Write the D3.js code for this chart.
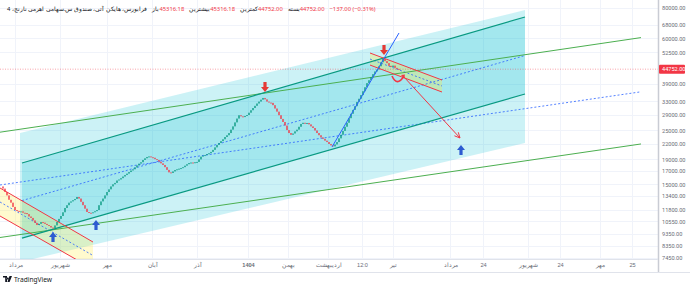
<!DOCTYPE html>
<html><head><meta charset="utf-8">
<script src="https://cdn.jsdelivr.net/npm/d3@7"></script>
<style>body{margin:0;background:#fff;} svg{display:block;font-family:"Noto Sans",Roboto,"DejaVu Sans",sans-serif;}</style>
</head><body><svg id="c" width="690" height="286"></svg>
<script>
// ---- data ----
const closes = [14400,13940,13500,12950,12600,12100,11750,11650,11550,11600,
11450,11420,11300,11050,10900,10650,10400,10190,10300,10480,
10420,10300,10190,10100,9950,9900,10150,10490,10800,11100,
11500,11980,12300,12600,12750,12900,13050,13300,13100,12700,
12300,11900,11530,11450,11400,11500,11620,11750,12300,12750,
13100,13500,13940,14300,14700,15000,15200,15550,15700,15900,
16150,16380,16600,16850,17100,17300,17600,17950,18250,18500,
18900,19200,19440,19550,19400,19300,19050,18900,18600,18300,
18020,17650,17200,16800,16700,16950,17180,17300,17400,17500,
17650,17900,18150,18360,18450,18400,18500,18550,19000,19500,
19700,19800,20000,20150,20400,20800,21300,21800,22200,22600,
23000,23500,23900,24400,25200,26000,27000,28000,28900,28600,
28400,28700,28960,29600,30300,30950,31600,32300,32900,33500,
34050,33600,32900,32600,32500,31800,30800,29900,28900,27900,
27100,26200,25100,24400,24000,24300,24800,25200,25900,26600,
26900,26700,26850,26500,26000,25600,25000,24400,23900,23400,
23100,22700,22400,22000,21700,21500,21900,22400,23200,24000,
24900,25900,26900,28100,29300,30400,31500,32800,33800,35000,
36300,37700,39200,40300,41500,42700,43800,44600,46000,47800,
49300,48300,47400,46200,45700,46300,45316,44889,44752];
const firstOpen = 14700;
const lastPrice = 44752;

const yTickValues = [80000,68000,60000,52500,39000,33000,29000,25000,22000,19000,17000,15000,13400,11800,10550,9350,8350,7450];
const xTickLabels = ["مرداد","شهریور","مهر","آبان","آذر","1404","بهمن","اردیبهشت","12:0","تیر","مرداد","24","شهریور","24","مهر","25"];
const xTickBars   = [6,28.5,52,74.5,97,122.5,142.5,162.5,179.5,195,223.5,240,262.5,278.5,298.5,314.5];
const boldTicks = ["1404"];

// drawings: [barIndex, price]
const greenUpper = [[-1.5,24600],[319,60400]];
const greenLower = [[-1.5,9050],[319,22000]];
const greenMid   = [[-1.5,14900],[319,36100]];
const lightFill  = [[8.5,24420],[261,78500],[261,22200],[8.5,7170]];
const tealUpper  = [[9.5,18360],[261,73450]];
const tealLower  = [[9.5,9000],[261,35350]];
const tealMid    = [[9.5,12850],[261,50950]];
const redCh1Upper = [[-1.5,14480],[45,8670]];
const redCh1Lower = [[-1.5,11100],[45,6710]];
const redCh1Mid   = [[-1.5,12680],[45,7630]];
const redCh2Upper = [[183.5,52180],[219.5,40370]];
const redCh2Lower = [[183.5,46540],[219.5,36030]];
const redCh2Mid   = [[183.5,49280],[219.5,38140]];
const blueTrend   = [[164.5,21380],[198,63100]];
const redProjection = [[200.5,41540],[228.5,23280]];
const curvedArrow = [[194.5,41950],[197.5,38800],[200.5,41950]];
const downMarkers = [[131,37790],[190.5,53700]];
const upMarkers   = [[25,9090],[46.5,10190],[229,20780]];

const titleText = "فرابورس، هایکن آتی، صندوق س.سهامی اهرمی نارنج، 4";
const legendLabels = ["باز","بیشترین","کمترین","بسته"];
const legendValues = ["45316.18","45316.18","44752.00","44752.00"];
const changeText = "−137.00 (−0.31%)";

// ---- layout ----
const W = 690, H = 286;
const plotR = 658, plotB = 259;
const svg = d3.select("#c");
const x = d3.scaleLinear().domain([0,198]).range([3,399]);
const y = d3.scaleLog().domain([80000,7450]).range([8,258]);
const RED = "#f23645", GREEN = "#089981", BLUE = "#2962ff", LGREEN = "#4caf50";

svg.append("defs").append("clipPath").attr("id","plot")
  .append("rect").attr("x",0).attr("y",0).attr("width",plotR).attr("height",plotB);

// grid
const grid = svg.append("g");
grid.selectAll(".hg").data(yTickValues).join("line")
  .attr("x1",0).attr("x2",plotR).attr("y1",d=>Math.round(y(d))+0.5).attr("y2",d=>Math.round(y(d))+0.5)
  .attr("stroke","#f0f3fa").attr("stroke-width",1);
grid.selectAll(".vg").data(xTickBars).join("line")
  .attr("y1",0).attr("y2",plotB).attr("x1",d=>Math.round(x(d))+0.5).attr("x2",d=>Math.round(x(d))+0.5)
  .attr("stroke","#f0f3fa").attr("stroke-width",1);

const P = svg.append("g").attr("clip-path","url(#plot)");
const pt = d => [x(d[0]), y(d[1])];
const line = d3.line().x(d=>x(d[0])).y(d=>y(d[1]));

// fills
P.append("path").attr("d", line(lightFill)+"Z").attr("fill","rgb(0,188,212)").attr("fill-opacity",0.2);
P.append("path").attr("d", line(tealUpper.concat(tealLower.slice().reverse()))+"Z").attr("fill","rgb(0,188,212)").attr("fill-opacity",0.2);
P.append("path").attr("d", line(redCh1Upper.concat(redCh1Lower.slice().reverse()))+"Z").attr("fill","rgb(255,235,59)").attr("fill-opacity",0.25);
P.append("path").attr("d", line(redCh2Upper.concat(redCh2Lower.slice().reverse()))+"Z").attr("fill","rgb(255,235,59)").attr("fill-opacity",0.3);

// price line
P.append("line").attr("x1",0).attr("x2",plotR).attr("y1",y(lastPrice)).attr("y2",y(lastPrice))
  .attr("stroke",RED).attr("stroke-opacity",0.45).attr("stroke-dasharray","1,1.5");

// channel lines
function seg(d,color,w,dash){ const p=P.append("path").attr("d",line(d)).attr("stroke",color).attr("stroke-width",w).attr("fill","none"); if(dash) p.attr("stroke-dasharray",dash); return p;}
seg(greenMid,BLUE,0.8,"2,2");
seg(tealMid,BLUE,0.8,"2,2");
seg(redCh1Mid,BLUE,0.8,"2,2");
seg(redCh2Mid,BLUE,0.8,"2,2");
seg(greenUpper,LGREEN,1);
seg(greenLower,LGREEN,1);
seg(tealUpper,GREEN,1.2);
seg(tealLower,GREEN,1.2);
seg(redCh1Upper,RED,1);
seg(redCh1Lower,RED,1);

// candles (Heikin Ashi style: open = previous close)
const candles = closes.map((c,i)=>({i, o: i===0?firstOpen:closes[i-1], c}));
P.selectAll(".cd").data(candles).join("rect")
  .attr("x",d=>x(d.i)-0.7).attr("width",1.4)
  .attr("y",d=>Math.min(y(d.o),y(d.c)))
  .attr("height",d=>Math.max(1,Math.abs(y(d.o)-y(d.c))))
  .attr("fill",d=>d.c>=d.o?GREEN:RED);

seg(redCh2Upper,RED,1);
seg(redCh2Lower,RED,1);
seg(blueTrend,BLUE,1);

// projection arrow
seg(redProjection,RED,1);
{
  const [x0,y0]=pt(redProjection[0]), [x1,y1]=pt(redProjection[1]);
  const a=Math.atan2(y1-y0,x1-x0), L=6;
  P.append("path").attr("d",`M${x1-L*Math.cos(a-0.45)},${y1-L*Math.sin(a-0.45)}L${x1},${y1}L${x1-L*Math.cos(a+0.45)},${y1-L*Math.sin(a+0.45)}`)
    .attr("stroke",RED).attr("fill","none").attr("stroke-width",1);
}
// curved arrow
{
  const c = curvedArrow.map(pt);
  P.append("path").attr("d",`M${c[0][0]},${c[0][1]}Q${c[1][0]-1},${c[1][1]+3} ${c[2][0]},${c[2][1]}`)
    .attr("stroke",RED).attr("stroke-width",1.6).attr("fill","none");
  P.append("path").attr("d",`M${c[2][0]-3},${c[2][1]-1}L${c[2][0]+1},${c[2][1]-1.5}L${c[2][0]},${c[2][1]+2.5}Z`).attr("fill",RED);
}
// markers
function arrowShape(cx,cy,dir,color){
  const s = dir;
  const pts = [[0,0],[4,5*s],[1.6,5*s],[1.6,10*s],[-1.6,10*s],[-1.6,5*s],[-4,5*s]];
  P.append("path").attr("d","M"+pts.map(p=>[cx+p[0],cy+p[1]].join(",")).join("L")+"Z").attr("fill",color);
}
downMarkers.forEach(d=>{const [cx,cy]=pt(d); arrowShape(cx,cy+5,-1,"#e53935");});
upMarkers.forEach(d=>{const [cx,cy]=pt(d); arrowShape(cx,cy-5,1,"#2d5bd1");});

// axes frame
svg.append("line").attr("x1",plotR+0.5).attr("x2",plotR+0.5).attr("y1",0).attr("y2",272).attr("stroke","#c9ccd4").attr("stroke-width",1.5);
svg.append("line").attr("x1",0).attr("x2",plotR).attr("y1",plotB+0.5).attr("y2",plotB+0.5).attr("stroke","#e0e3eb");
svg.append("line").attr("x1",0).attr("x2",W).attr("y1",272.5).attr("y2",272.5).attr("stroke","#e0e3eb");

// y axis
const yAxis = d3.axisRight(y).tickValues(yTickValues).tickSize(0).tickPadding(0).tickFormat(d3.format(".2f"));
const ya = svg.append("g").attr("transform",`translate(${plotR+4},0)`).call(yAxis);
ya.select(".domain").remove();
ya.selectAll("text").attr("font-size",5.6).attr("fill","#6a6d78").attr("font-family","Roboto,'Noto Sans',sans-serif");

// last price label
const ly = y(lastPrice);
svg.append("rect").attr("x",plotR+1).attr("y",ly-4.5).attr("width",26).attr("height",9).attr("fill",RED).attr("rx",1);
svg.append("text").attr("x",plotR+4).attr("y",ly).attr("dy","0.35em").attr("font-size",5.6).attr("fill","#fff")
  .attr("font-family","Roboto,'Noto Sans',sans-serif").text(d3.format(".2f")(lastPrice));

// x axis
const xAxis = d3.axisBottom(x).tickValues(xTickBars).tickSize(0).tickPadding(0).tickFormat((d,i)=>xTickLabels[i]);
const xa = svg.append("g").attr("transform",`translate(0,${plotB+4})`).call(xAxis);
xa.select(".domain").remove();
xa.selectAll("text").attr("font-size",5.6).attr("fill","#6a6d78")
  .attr("font-weight",(d,i)=>boldTicks.includes(xTickLabels[i])?"bold":"normal");

// header legend
const hg = svg.append("g").attr("font-size",5.8).attr("font-family","'Noto Sans',Roboto,sans-serif");
const tt = hg.append("text").attr("x",7).attr("y",11).attr("fill","#131722").text(titleText);
let hx = 7 + tt.node().getComputedTextLength() + 5;
legendLabels.forEach((lab,i)=>{
  const t1 = hg.append("text").attr("x",hx).attr("y",11).attr("fill","#131722").text(lab);
  hx += t1.node().getComputedTextLength();
  const t2 = hg.append("text").attr("x",hx).attr("y",11).attr("fill",RED).text(legendValues[i]);
  hx += t2.node().getComputedTextLength()+5;
});
hg.append("text").attr("x",hx).attr("y",11).attr("fill",RED).text(changeText);

// TradingView logo
const lg = svg.append("g").attr("transform","translate(3,276)");
lg.append("path").attr("d","M0,0H4V6H2.2V1.6H0Z M4.6,1.6a0.9,0.9 0 1 0 0.01,0 M6.5,0H9L6.6,6H4.4Z").attr("fill","#131722");
lg.append("text").attr("x",11).attr("y",5.8).attr("font-size",6.6).attr("fill","#131722").text("TradingView");
</script></body></html>
